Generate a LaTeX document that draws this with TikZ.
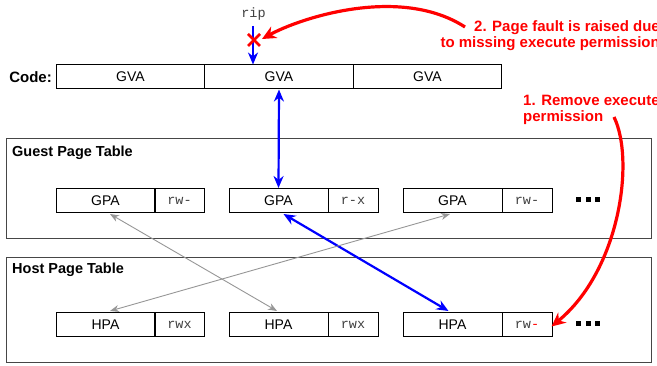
\documentclass[tikz,border=0pt]{standalone}
\usepackage{fontspec}
\setmainfont{Liberation Sans}
\setmonofont{Liberation Mono}
\usetikzlibrary{arrows.meta,calc}
\definecolor{fred}{RGB}{255,0,0}
\definecolor{fblue}{RGB}{0,0,255}
\definecolor{fgray}{RGB}{150,150,150}
\definecolor{fframe}{RGB}{70,70,70}
\begin{document}
\begin{tikzpicture}[x=1pt,y=-1pt,
  cell/.style={draw=black,line width=1pt,inner sep=0pt,minimum height=24pt,font=\fontsize{14}{16}\selectfont},
  codecell/.style={cell,minimum width=148.5pt},
  addr/.style={cell,minimum width=99pt},
  perm/.style={cell,minimum width=50pt,font=\fontsize{13.5}{15}\selectfont\ttfamily,text=black!75},
  frame/.style={draw=fframe,line width=1.3pt},
  title/.style={anchor=west,font=\fontsize{14.5}{16}\selectfont\bfseries,inner sep=0pt},
  bluearr/.style={draw=fblue,line width=2.2pt,{Stealth[length=12pt,width=10pt]}-{Stealth[length=12pt,width=10pt]}},
  grayarr/.style={draw=fgray,line width=0.9pt,{Stealth[length=9pt,width=7pt]}-{Stealth[length=9pt,width=7pt]}},
  redarr/.style={draw=fred,line width=3.2pt,-{Stealth[length=14pt,width=13pt]}},
  redtxt/.style={text=fred,font=\fontsize{15}{16}\selectfont\bfseries,inner sep=0pt},
  dotsq/.style={fill=black,minimum size=5pt,inner sep=0pt}
]
\useasboundingbox (0,0) rectangle (657,366);
% code row
\node[anchor=east,font=\fontsize{15}{17}\selectfont\bfseries,inner sep=0pt] (codelbl) at (52,77) {Code:};
\node[codecell] (gva1) at (130.5,77) {GVA};
\node[codecell] (gva2) at (279,77) {GVA};
\node[codecell] (gva3) at (427.5,77) {GVA};
% frames
\node[frame,inner sep=0pt,minimum width=645pt,minimum height=100pt,anchor=north west] (gpt) at (6,138) {};
\node[title] (gpttitle) at (12,153) {Guest Page Table};
\node[frame,inner sep=0pt,minimum width=645pt,minimum height=105pt,anchor=north west] (hpt) at (6,257) {};
\node[title] (hpttitle) at (12,270) {Host Page Table};
% guest entries
\node[addr] (gpa1) at (105.5,200.5) {GPA};
\node[perm] (gp1) at (179.5,200.5) {rw-};
\node[addr] (gpa2) at (278.5,200.5) {GPA};
\node[perm] (gp2) at (353,200.5) {r-x};
\node[addr] (gpa3) at (452.5,200.5) {GPA};
\node[perm] (gp3) at (527,200.5) {rw-};
\node[dotsq] (gd1) at (578.5,200) {};
\node[dotsq] (gd2) at (588,200) {};
\node[dotsq] (gd3) at (597.5,200) {};
% host entries
\node[addr] (hpa1) at (105.5,324.5) {HPA};
\node[perm] (hp1) at (179.5,324.5) {rwx};
\node[addr] (hpa2) at (278.5,324.5) {HPA};
\node[perm] (hp2) at (353,324.5) {rwx};
\node[addr] (hpa3) at (452.5,324.5) {HPA};
\node[perm] (hp3) at (527,324.5) {rw\textcolor{fred}{-}};
\node[dotsq] (hd1) at (578.5,323.5) {};
\node[dotsq] (hd2) at (588,323.5) {};
\node[dotsq] (hd3) at (597.5,323.5) {};
% rip
\node[font=\fontsize{13.5}{15}\selectfont\ttfamily,text=black!75,inner sep=0pt] (rip) at (253.5,14) {rip};
\coordinate (ripx) at (254,40);
\coordinate (ripstart) at (253,26);
\draw[draw=fblue,line width=2.2pt,-{Stealth[length=12pt,width=10pt]}] (ripstart) -- (ripstart |- gva2.north);
\draw[fred,line width=2.8pt] ($(ripx)+(-6,-6)$) -- ($(ripx)+(6,6)$) ($(ripx)+(-6,6)$) -- ($(ripx)+(6,-6)$);
% blue mapping arrows
\draw[bluearr] (gva2.south) -- (gpa2.north);
\draw[bluearr] ([xshift=5pt,yshift=-1pt]gpa2.south) -- ([xshift=-4pt,yshift=1pt]hpa3.north);
% gray arrows
\draw[grayarr] ([xshift=4.5pt,yshift=-1pt]gpa1.south) -- ([xshift=-1.5pt,yshift=1pt]hpa2.north);
\draw[grayarr] ([xshift=-2.5pt,yshift=-1pt]gpa3.south) -- ([xshift=4.5pt,yshift=1pt]hpa1.north);
% red notes
\node[redtxt,anchor=north east,align=right] (note2) at (660,20) {2. Page fault is raised due\\to missing execute permission};
\node[redtxt,anchor=north west,align=left] (note1) at (523,95) {1. Remove execute\\permission};
\coordinate (n2start) at (465,27);
\coordinate (n1start) at (614,117);
\draw[redarr] (n2start) .. controls (400,-15) and (300,18) .. ($(ripx)+(8,-1)$);
\draw[redarr] (n1start) .. controls (635,160) and (620,270) .. ([xshift=-1pt,yshift=-2pt]hp3.east);
\end{tikzpicture}
\end{document}
